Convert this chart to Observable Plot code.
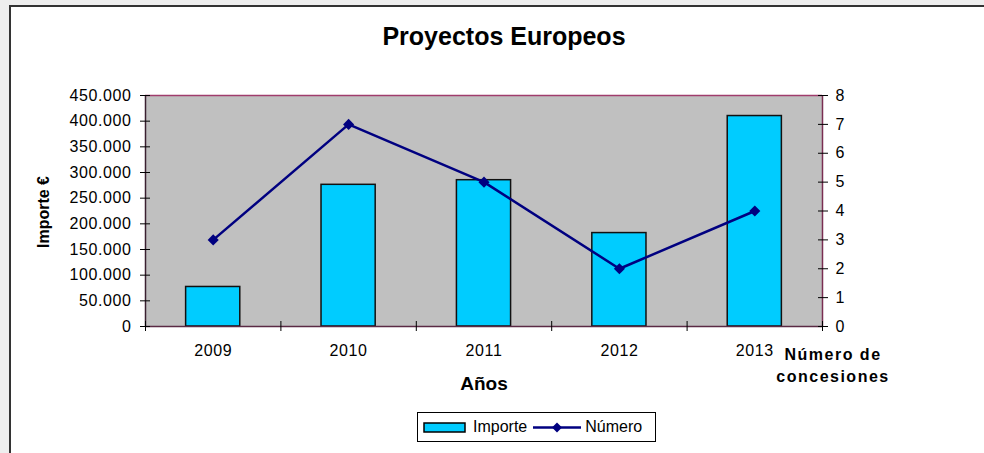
<!DOCTYPE html>
<html><head><meta charset="utf-8">
<script src="https://cdn.jsdelivr.net/npm/d3@7"></script>
<script src="https://cdn.jsdelivr.net/npm/@observablehq/plot@0.6"></script>
<style>
html,body{margin:0;padding:0;}
body{background:#eeeeee;width:984px;height:453px;overflow:hidden;position:relative;font-family:"Liberation Sans",Arial,sans-serif;color:#000;}
#box{position:absolute;left:9px;top:5px;width:1000px;height:470px;background:#fff;border-left:2px solid #333;border-top:2px solid #333;}
#chart{position:absolute;left:0;top:0;}
.t{position:absolute;font-weight:bold;white-space:nowrap;line-height:1;}
#legend{position:absolute;left:417px;top:412px;width:237px;height:28px;border:1px solid #000;background:#fff;font-size:16px;display:flex;align-items:center;}
#legend span{display:inline-block;}
</style></head><body>
<div id="box"></div>
<div id="chart"></div>
<div class="t" style="left:0;width:1008px;text-align:center;top:24px;font-size:25px;">Proyectos Europeos</div>
<div class="t" style="left:44px;top:212px;font-size:16px;transform:translate(-50%,-50%) rotate(-90deg);">Importe €</div>
<div class="t" style="left:484px;top:383px;font-size:19px;transform:translate(-50%,-50%);">Años</div>
<div class="t" style="left:833px;top:366px;font-size:16px;letter-spacing:1.5px;line-height:22px;text-align:center;transform:translate(-50%,-50%);">Número de<br>concesiones</div>
<div id="legend">
  <svg width="52" height="28" style="display:block"><rect x="6" y="10" width="41" height="9" fill="#00ccff" stroke="#000" stroke-width="1.5"/></svg>
  <span style="margin-left:3px;">Importe</span>
  <svg width="58" height="28" style="display:block"><line x1="6" y1="14.5" x2="54" y2="14.5" stroke="#000080" stroke-width="2.5"/><path d="M30 9.5 L35 14.5 L30 19.5 L25 14.5 Z" fill="#000080"/></svg>
  <span>Número</span>
</div>
<script>
const years = ["2009", "2010", "2011", "2012", "2013"];
const importe = [77000, 276000, 285000, 182000, 410000];
const numero = [3, 7, 5, 2, 4];
const importeTicks = [0, 50000, 100000, 150000, 200000, 250000, 300000, 350000, 400000, 450000];
const numeroTicks = [0, 1, 2, 3, 4, 5, 6, 7, 8];

const yMax = importeTicks[importeTicks.length - 1];
const k = yMax / numeroTicks[numeroTicks.length - 1];
const fmt = d => d3.format(",")(d).replace(/,/g, ".");
const rows = years.map((y, i) => ({i, year: y, importe: importe[i], numero: numero[i]}));
const centers = years.map((y, i) => i + 0.5);
const bounds = d3.range(0, years.length + 1);

const chart = Plot.plot({
  width: 984, height: 453,
  marginLeft: 145, marginRight: 162, marginTop: 95, marginBottom: 127,
  style: {background: "transparent", fontFamily: "Liberation Sans, Arial, sans-serif", fontSize: "16px", letterSpacing: "0.6px", color: "#000", overflow: "visible"},
  x: {domain: [0, years.length]},
  y: {domain: [0, yMax]},
  marks: [
    Plot.frame({fill: "#c0c0c0", stroke: null}),
    Plot.rectY(rows, {x1: d => d.i + 0.3, x2: d => d.i + 0.7, y: "importe", fill: "#00ccff", stroke: "#111", strokeWidth: 1.5}),
    Plot.ruleY([yMax], {stroke: "#a03c6c", strokeWidth: 1.5}),
    Plot.ruleX([years.length], {stroke: "#7a2e52", strokeWidth: 1.5}),
    Plot.ruleX([0], {stroke: "#3a2030", strokeWidth: 1.5}),
    Plot.ruleY([0], {stroke: "#5a2a44", strokeWidth: 1.5}),
    Plot.line(rows, {x: d => d.i + 0.5, y: d => d.numero * k, stroke: "#000080", strokeWidth: 2.5}),
    Plot.dot(rows, {x: d => d.i + 0.5, y: d => d.numero * k, symbol: "diamond2", r: 5, fill: "#000080", stroke: null}),
    Plot.axisY({anchor: "left", ticks: importeTicks, tickFormat: fmt, tickSize: 5, tickPadding: 9, label: null}),
    Plot.axisY({anchor: "left", ticks: importeTicks, tickFormat: () => "", tickSize: 5, dx: 5, fill: "none", label: null}),
    Plot.axisY({anchor: "right", ticks: numeroTicks.map(v => v * k), tickFormat: d => String(Math.round(d / k)), tickSize: 5, tickPadding: 8, label: null}),
    Plot.axisY({anchor: "right", ticks: numeroTicks.map(v => v * k), tickFormat: () => "", tickSize: 5, dx: -5, fill: "none", label: null}),
    Plot.axisX({ticks: centers, tickFormat: d => years[Math.floor(d)], tickSize: 0, tickPadding: 18, label: null}),
    Plot.axisX({ticks: bounds, tickFormat: () => "", tickSize: 5, fill: "none", label: null}),
    Plot.axisX({ticks: bounds, tickFormat: () => "", tickSize: 5, dy: -5, fill: "none", label: null})
  ]
});
document.getElementById("chart").append(chart);
</script>
</body></html>
